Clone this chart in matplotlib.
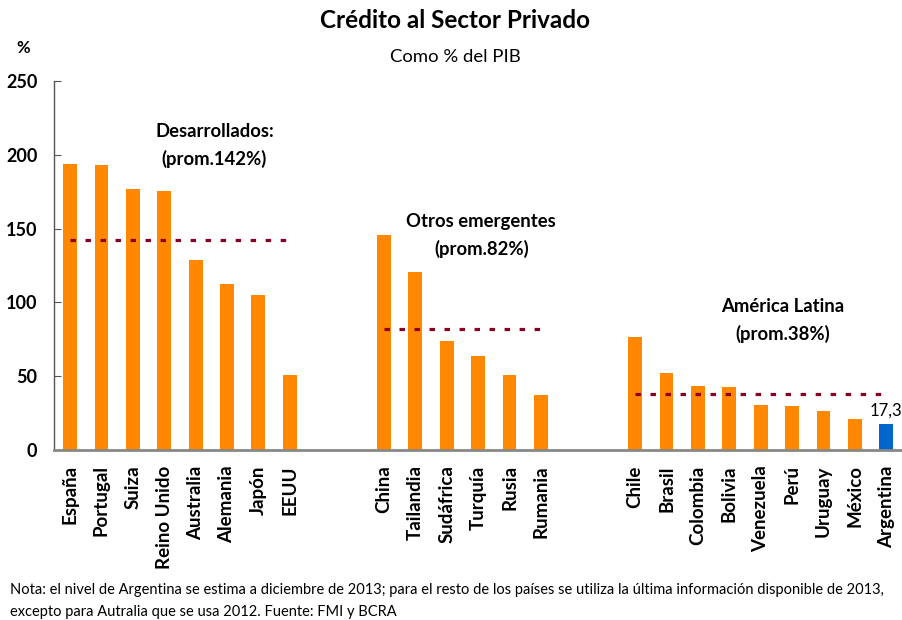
# python3
import numpy as np
import matplotlib.pyplot as plt

plt.rcParams['font.family'] = ['Lato', 'DejaVu Sans']

desarrollados = ['España', 'Portugal', 'Suiza', 'Reino Unido', 'Australia', 'Alemania', 'Japón', 'EEUU']
desarrolladosVal = [194, 193, 177, 175.5, 129, 112.5, 105, 50.5]
emergentes = ['China', 'Tailandia', 'Sudáfrica', 'Turquía', 'Rusia', 'Rumania']
emergentesVal = [145.7, 120.6, 73.8, 63.9, 50.8, 37.3]
latam = ['Chile', 'Brasil', 'Colombia', 'Bolivia', 'Venezuela', 'Perú', 'Uruguay', 'México', 'Argentina']
latamVal = [76.6, 52, 43.4, 42.9, 30.5, 29.8, 26.4, 21, 17.3]
promedios = [142, 82, 38]
grupoTitulos = ['Desarrollados:', 'Otros emergentes', 'América Latina']
grupoProm = ['(prom.142%)', '(prom.82%)', '(prom.38%)']

orange = '#FF8800'
blue = '#0066CC'
darkRed = '#8B0022'

fig = plt.figure(figsize=(9.03, 6.2), dpi=100)
ax = fig.add_axes([54 / 903, 170 / 620, 849 / 903, 369 / 620])

gap = 2
grupos = [(desarrollados, desarrolladosVal), (emergentes, emergentesVal), (latam, latamVal)]
start = 0
labels = []
positions = []
for g, (names, vals) in enumerate(grupos):
    pos = np.arange(len(names)) + start
    colors = [orange] * len(names)
    if g == 2:
        colors[-1] = blue
    ax.bar(pos, vals, width=0.44, color=colors, zorder=2)
    ax.plot([pos[0], pos[-1]], [promedios[g], promedios[g]], color=darkRed,
            lw=2.3, dashes=(1.7, 3.0), zorder=3)
    labels += names
    positions += list(pos)
    start = pos[-1] + 1 + gap

ax.text(positions[-1], latamVal[-1] + 4, '17,3', ha='center', va='bottom', fontsize=12)

# titulos de grupo
txtX = [4.6, 13.1, 22.7]
txtY = [216, 155, 97]
for i in range(3):
    ax.text(txtX[i], txtY[i], grupoTitulos[i], ha='center', va='center',
            fontsize=13.3, fontweight='bold')
    ax.text(txtX[i], txtY[i] - 18.5, grupoProm[i], ha='center', va='center',
            fontsize=13.3, fontweight='bold')

ax.set_xlim(-0.51, 26.53)
ax.set_ylim(0, 250)
ax.set_yticks([0, 50, 100, 150, 200, 250])
ax.set_xticks(positions)
ax.set_xticklabels(labels, rotation=90, fontsize=13.5, fontweight='bold')
ax.tick_params(axis='x', length=0, pad=11)
ax.tick_params(axis='y', direction='in', length=5, pad=12, labelsize=13, color='#555555')
for t in ax.get_yticklabels():
    t.set_fontweight('bold')

for s in ['top', 'right']:
    ax.spines[s].set_visible(False)
ax.spines['left'].set_color('#555555')
ax.spines['left'].set_linewidth(1)
ax.spines['bottom'].set_color('#888888')
ax.spines['bottom'].set_linewidth(2)

fig.text(455 / 903, 1 - 20 / 620, 'Crédito al Sector Privado', ha='center', va='center',
         fontsize=17.5, fontweight='bold')
fig.text(455 / 903, 1 - 57 / 620, 'Como % del PIB', ha='center', va='center', fontsize=13.3)
fig.text(23 / 903, 1 - 48 / 620, '%', ha='center', va='center', fontsize=12, fontweight='bold')

fig.text(10 / 903, 1 - 590 / 620,
         'Nota: el nivel de Argentina se estima a diciembre de 2013; para el resto de los países se utiliza la última información disponible de 2013,',
         ha='left', va='center', fontsize=10.5)
fig.text(10 / 903, 1 - 612 / 620,
         'excepto para Autralia que se usa 2012. Fuente: FMI y BCRA',
         ha='left', va='center', fontsize=10.5)

fig.savefig('out.png', dpi=100)
